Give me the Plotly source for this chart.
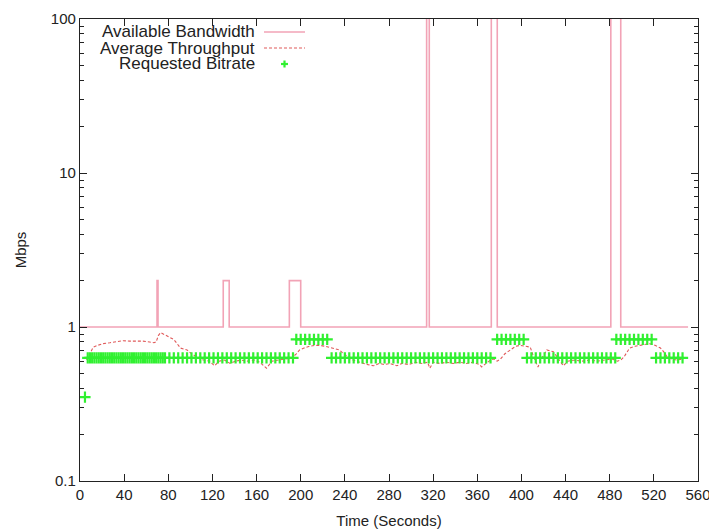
import plotly.graph_objects as go

# ---------------- data ----------------
# Available bandwidth (step function, Mbps); values above 100 are off-scale spikes
bw_time = [0, 69.8, 70.7, 129.8, 135.2, 189.7, 200.0, 314.1, 316.5, 372.7, 378.1, 481.0, 490.0, 551.0]
bw_mbps = [1, 2, 1, 2, 1, 2, 1, 1000, 1, 1000, 1, 1000, 1, 1]

# Average throughput (Mbps)
thr_time = [6, 9, 12, 16, 21, 27, 33, 39, 45, 51, 57, 63, 67, 69, 71, 73, 77, 81, 85, 88,
            91, 94, 97, 100, 103, 107, 112, 117, 122, 126, 131, 136, 141, 146, 152, 158, 163, 169, 174, 180,
            186, 192, 196, 199, 203, 208, 213, 217, 222, 226, 231, 235, 238, 241, 245, 250, 256, 261, 266, 271,
            276, 281, 287, 292, 298, 304, 310, 315, 317, 320, 326, 332, 338, 344, 350, 356, 362, 364, 368, 372,
            375, 378, 381, 385, 390, 395, 399, 404, 408, 411, 413, 415, 418, 423, 429, 434, 438, 442, 448, 455,
            462, 469, 476, 482, 487, 490, 493, 498, 503, 507, 512, 516, 521, 526, 529, 532, 536, 541, 547]
thr_mbps = [0.61, 0.68, 0.74, 0.76, 0.78, 0.79, 0.80, 0.815, 0.81, 0.81, 0.81, 0.80, 0.79, 0.80, 0.88, 0.92, 0.89, 0.865, 0.83, 0.78,
            0.73, 0.72, 0.71, 0.68, 0.66, 0.63, 0.61, 0.60, 0.56, 0.60, 0.61, 0.58, 0.60, 0.61, 0.60, 0.61, 0.59, 0.54, 0.60, 0.61,
            0.62, 0.63, 0.67, 0.71, 0.73, 0.75, 0.76, 0.76, 0.75, 0.74, 0.72, 0.71, 0.68, 0.65, 0.62, 0.60, 0.58, 0.57, 0.56, 0.58,
            0.57, 0.58, 0.56, 0.58, 0.57, 0.59, 0.58, 0.59, 0.54, 0.59, 0.58, 0.59, 0.58, 0.59, 0.58, 0.59, 0.57, 0.55, 0.58, 0.61,
            0.62, 0.60, 0.62, 0.67, 0.71, 0.75, 0.76, 0.75, 0.74, 0.64, 0.59, 0.55, 0.62, 0.71, 0.69, 0.62, 0.56, 0.60, 0.61, 0.60,
            0.61, 0.60, 0.61, 0.62, 0.60, 0.61, 0.64, 0.73, 0.75, 0.76, 0.77, 0.78, 0.76, 0.73, 0.69, 0.64, 0.62, 0.61, 0.62]

# Requested bitrate (Mbps)
req_time = [4.5,
            7, 9, 11, 13, 15, 17, 19, 21, 23, 25, 27, 29, 31, 33, 35, 37, 39, 41, 43, 45, 47, 49, 51, 53,
            55, 57, 59, 61, 63, 65, 67, 69, 71, 73, 75, 77,
            81, 85, 89, 93, 97, 101, 105, 109, 113, 117, 121, 125, 129, 133, 137, 141, 145, 149, 153, 157,
            161, 165, 169, 173, 177, 181, 185, 189, 193,
            196, 200, 204, 208, 212, 216, 220, 224,
            228, 232, 236, 240, 244, 248, 252, 256, 260, 264, 268, 272, 276, 280, 284, 288, 292, 296, 300,
            304, 308, 312, 316, 320, 324, 328, 332, 336, 340, 344, 348, 352, 356, 360, 364, 368, 372,
            378, 382, 386, 390, 394, 398, 402,
            405, 409, 413, 417, 421, 425, 429, 433, 437, 441, 445, 449, 453, 457, 461, 465, 469, 473, 477, 481, 485,
            486, 490, 494, 498, 502, 506, 510, 514, 518,
            522, 526, 530, 534, 538, 542, 546]
req_mbps = [0.35,
            0.63, 0.63, 0.63, 0.63, 0.63, 0.63, 0.63, 0.63, 0.63, 0.63, 0.63, 0.63, 0.63, 0.63, 0.63, 0.63, 0.63, 0.63, 0.63, 0.63, 0.63, 0.63, 0.63, 0.63,
            0.63, 0.63, 0.63, 0.63, 0.63, 0.63, 0.63, 0.63, 0.63, 0.63, 0.63, 0.63,
            0.63, 0.63, 0.63, 0.63, 0.63, 0.63, 0.63, 0.63, 0.63, 0.63, 0.63, 0.63, 0.63, 0.63, 0.63, 0.63, 0.63, 0.63, 0.63, 0.63,
            0.63, 0.63, 0.63, 0.63, 0.63, 0.63, 0.63, 0.63, 0.63,
            0.83, 0.83, 0.83, 0.83, 0.83, 0.83, 0.83, 0.83,
            0.63, 0.63, 0.63, 0.63, 0.63, 0.63, 0.63, 0.63, 0.63, 0.63, 0.63, 0.63, 0.63, 0.63, 0.63, 0.63, 0.63, 0.63, 0.63,
            0.63, 0.63, 0.63, 0.63, 0.63, 0.63, 0.63, 0.63, 0.63, 0.63, 0.63, 0.63, 0.63, 0.63, 0.63, 0.63, 0.63, 0.63,
            0.83, 0.83, 0.83, 0.83, 0.83, 0.83, 0.83,
            0.63, 0.63, 0.63, 0.63, 0.63, 0.63, 0.63, 0.63, 0.63, 0.63, 0.63, 0.63, 0.63, 0.63, 0.63, 0.63, 0.63, 0.63, 0.63, 0.63, 0.63,
            0.83, 0.83, 0.83, 0.83, 0.83, 0.83, 0.83, 0.83, 0.83,
            0.63, 0.63, 0.63, 0.63, 0.63, 0.63, 0.63]

x_ticks = [0, 40, 80, 120, 160, 200, 240, 280, 320, 360, 400, 440, 480, 520, 560]
y_ticks = [0.1, 1, 10, 100]
y_tick_labels = ["0.1", "1", "10", "100"]
legend_labels = ["Available Bandwidth", "Average Throughput", "Requested Bitrate"]

# ---------------- styles ----------------
PINK = "#f2a3b6"
RED = "#e05a5a"
GREEN = "#30f030"
FONT = "Liberation Sans, Arial, sans-serif"

fig = go.Figure()
fig.add_trace(go.Scatter(x=bw_time, y=bw_mbps, mode="lines", line=dict(color=PINK, width=1.6, shape="hv"),
                         name=legend_labels[0], showlegend=False))
fig.add_trace(go.Scatter(x=thr_time, y=thr_mbps, mode="lines", line=dict(color=RED, width=1.1, dash="3px,2px"),
                         name=legend_labels[1], showlegend=False))
fig.add_trace(go.Scatter(x=req_time, y=req_mbps, mode="markers",
                         marker=dict(symbol="cross-thin-open", size=8, color=GREEN,
                                     line=dict(color=GREEN, width=2.2)),
                         name=legend_labels[2], showlegend=False))

# The page body adds an 8px offset; the figure is sized so the page matches 717x532.
OFF = 8
FIG_W, FIG_H = 717 - OFF, 532 - OFF
# plot-area geometry in page pixels
L, R, T, B = 80, 698, 19, 481
W, H = R - L, B - T
def px(x):
    return (x - L) / W
def py(y):
    return (B - y) / H

rows = [32, 48, 63]
text_right = 257
for lab, ry in zip(legend_labels, rows):
    fig.add_annotation(x=px(text_right), y=py(ry), xref="paper", yref="paper", text=lab, showarrow=False,
                       xanchor="right", yanchor="middle", font=dict(family=FONT, size=17, color="#222222"))
# legend samples
fig.add_shape(type="line", xref="paper", yref="paper", x0=px(264), x1=px(305), y0=py(rows[0]), y1=py(rows[0]),
              line=dict(color=PINK, width=1.6))
fig.add_shape(type="line", xref="paper", yref="paper", x0=px(264), x1=px(305), y0=py(rows[1]), y1=py(rows[1]),
              line=dict(color=RED, width=1.1, dash="3px,2px"))
fig.add_shape(type="line", xref="paper", yref="paper", x0=px(281), x1=px(288), y0=py(rows[2] + 1), y1=py(rows[2] + 1),
              line=dict(color=GREEN, width=2.2))
fig.add_shape(type="line", xref="paper", yref="paper", x0=px(284.5), x1=px(284.5), y0=py(rows[2] - 2.5), y1=py(rows[2] + 4.5),
              line=dict(color=GREEN, width=2.2))

fig.update_layout(
    width=FIG_W, height=FIG_H,
    margin=dict(l=L - OFF, r=717 - R, t=T - OFF, b=532 - B, autoexpand=False),
    paper_bgcolor="white", plot_bgcolor="white",
    font=dict(family=FONT, size=15, color="#222222"),
    showlegend=False,
)
fig.update_xaxes(range=[0, 560], tickvals=x_ticks, ticktext=[str(v) for v in x_ticks],
                 ticks="inside", ticklen=7, tickwidth=1.3, tickcolor="#222222",
                 showline=True, linecolor="#222222", linewidth=1.3, mirror="ticks",
                 showgrid=False, zeroline=False, automargin=False,
                 title=dict(text="Time (Seconds)", font=dict(family=FONT, size=15), standoff=13),
                 tickfont=dict(family=FONT, size=15))
fig.update_yaxes(type="log", range=[-1, 2], tickvals=y_ticks, ticktext=y_tick_labels,
                 ticks="inside", ticklen=7, tickwidth=1.3, tickcolor="#222222",
                 minor=dict(ticks="inside", ticklen=4, tickwidth=1.2, tickcolor="#222222", dtick="D1", showgrid=False),
                 showline=True, linecolor="#222222", linewidth=1.3, mirror="ticks",
                 showgrid=False, zeroline=False, automargin=False,
                 title=dict(text="Mbps", font=dict(family=FONT, size=15), standoff=20),
                 tickfont=dict(family=FONT, size=15))

fig.write_html("out.html")
